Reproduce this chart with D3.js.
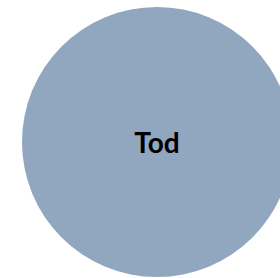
<!DOCTYPE html>
<html>
<head>
<meta charset="utf-8">
<script src="https://cdn.jsdelivr.net/npm/d3@7"></script>
<style>
  html, body { margin: 0; padding: 0; background: #fff; overflow: hidden; }
</style>
</head>
<body>
<div id="chart"></div>
<script>
// single bubble
const categories = ["Tod"];
const values = [1];

const width = 280;
const height = 278;
const diameter = 270;

const svg = d3.select("#chart")
  .append("svg")
  .attr("width", width)
  .attr("height", height);

const root = d3.hierarchy({ children: categories.map((name, i) => ({ name, value: values[i] })) })
  .sum((d) => d.value);

d3.pack().size([diameter, diameter]).padding(0)(root);

const g = svg.append("g").attr("transform", "translate(22,7)");

const node = g.selectAll("g.node")
  .data(root.leaves())
  .join("g")
  .attr("class", "node")
  .attr("transform", (d) => `translate(${d.x},${d.y})`);

node.append("circle")
  .attr("r", (d) => d.r)
  .attr("fill", "#91a6bf");

node.append("text")
  .attr("text-anchor", "middle")
  .attr("dy", 11)
  .attr("font-family", "Lato, 'Open Sans', sans-serif")
  .attr("font-weight", "bold")
  .attr("font-size", 28)
  .attr("fill", "#000")
  .text((d) => d.data.name);
</script>
</body>
</html>
